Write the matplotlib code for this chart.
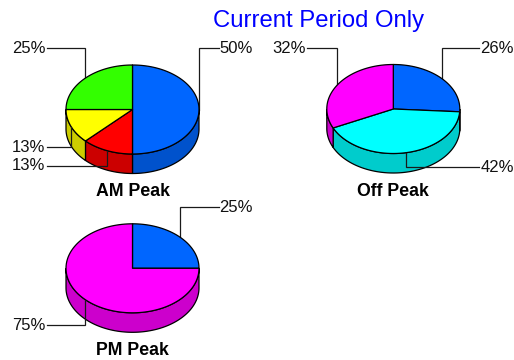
import numpy as np
import matplotlib
matplotlib.use('Agg')
import matplotlib.pyplot as plt
from matplotlib.patches import Polygon

plt.rcParams['font.family'] = ['Liberation Sans', 'DejaVu Sans']

title = 'Current Period Only'

am_values = [50, 12.5, 12.5, 25]
am_labels = ['50%', '13%', '13%', '25%']
am_colors = ['#0066FF', '#FF0000', '#FFFF00', '#33FF00']

off_values = [26, 42, 32]
off_labels = ['26%', '42%', '32%']
off_colors = ['#0066FF', '#00FFFF', '#FF00FF']

pm_values = [25, 75]
pm_labels = ['25%', '75%']
pm_colors = ['#0066FF', '#FF00FF']

RX = 66.5
RY = 44.5
DEPTH = 19.5
LINE = '#1a1a1a'


def darker(color):
    rgb = np.array(matplotlib.colors.to_rgb(color))
    return tuple(rgb * 0.8)


def arc(cx, cy, t1, t2):
    # t is in degrees, clockwise from the top of the pie
    t = np.radians(np.linspace(t1, t2, 120))
    return np.column_stack([cx + RX * np.sin(t), cy - RY * np.cos(t)])


def draw_pie(ax, cx, cy, values, labels, colors, label_rows, name, name_y):
    total = sum(values)
    start = 0
    for value, color in zip(values, colors):
        end = start + value / total * 360
        # side wall only shows on the front half
        a = max(start, 90)
        b = min(end, 270)
        if a < b:
            top = arc(cx, cy, a, b)
            bottom = top[::-1] + [0, DEPTH]
            ax.add_patch(Polygon(np.vstack([top, bottom]), facecolor=darker(color),
                                 edgecolor='black', linewidth=0.9, zorder=2))
        start = end

    start = 0
    for value, label, color, row in zip(values, labels, colors, label_rows):
        end = start + value / total * 360
        pts = np.vstack([[cx, cy], arc(cx, cy, start, end)])
        ax.add_patch(Polygon(pts, facecolor=color, edgecolor='black',
                             linewidth=0.9, joinstyle='round', zorder=3))

        # elbow leader from the middle of the slice's rim out to the label
        mid = (start + end) / 2
        px, py = arc(cx, cy, mid, mid)[0]
        side = 1 if mid < 180 else -1
        line_end = cx + 86 * side
        ax.plot([px, px, line_end], [py, row, row], color=LINE, linewidth=0.9,
                solid_joinstyle='miter', zorder=4 if row > cy else 1)
        ha = 'left' if side > 0 else 'right'
        ax.text(line_end + side, row + 0.5, label, ha=ha, va='center',
                fontsize=12, color='#111111', zorder=5)
        start = end

    ax.text(cx, name_y, name, ha='center', va='center', fontsize=12.8,
            fontweight='bold', color='black')


fig = plt.figure(figsize=(5.14, 3.6), dpi=100)
ax = fig.add_axes([0, 0, 1, 1])
ax.set_xlim(0, 514)
ax.set_ylim(360, 0)
ax.axis('off')

ax.text(319, 20.5, title, ha='center', va='center', fontsize=17.2, color='#0000FF')

draw_pie(ax, 132.5, 109.5, am_values, am_labels, am_colors, [48, 165.5, 147, 48], 'AM Peak', 191.5)
draw_pie(ax, 393.3, 109, off_values, off_labels, off_colors, [48, 166.5, 48], 'Off Peak', 191.5)
draw_pie(ax, 132.5, 268.3, pm_values, pm_labels, pm_colors, [207, 325], 'PM Peak', 350.5)

fig.savefig('out.png', dpi=100)
